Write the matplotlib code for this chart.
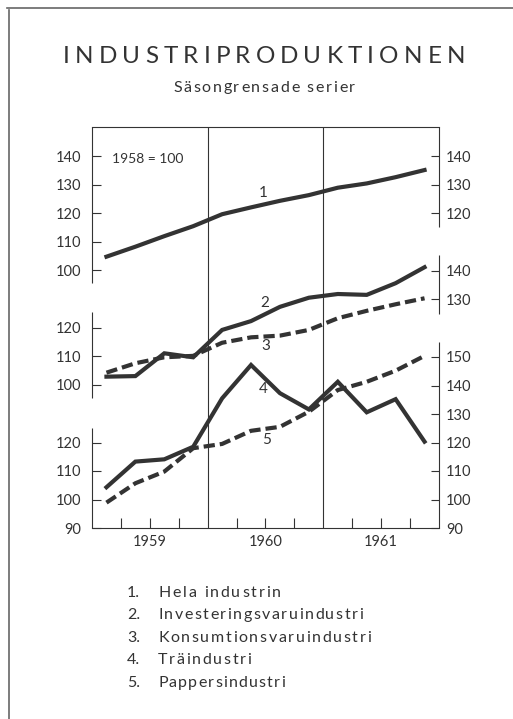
import numpy as np
import matplotlib.pyplot as plt
from matplotlib.lines import Line2D

# figure size in pixels (dpi 100)
W, H = 513, 719
FONT = ['Lato', 'DejaVu Sans']
INK = '#333333'
plt.rcParams['font.family'] = FONT

# ---- data: quarterly index values (1958 = 100) ----
quarters = 1959 + (np.arange(12) + 0.5) / 4
hela = [104.7, 108.2, 111.9, 115.4, 119.6, 122.0, 124.3, 126.3, 128.9, 130.4, 132.6, 135.1]
invest = [102.8, 103.0, 111.0, 109.6, 119.2, 122.3, 127.3, 130.5, 131.8, 131.5, 135.6, 141.2]
konsum = [104.2, 107.5, 109.6, 110.1, 114.7, 116.6, 117.2, 119.2, 123.3, 125.9, 128.2, 130.3]
trae = [104.3, 113.3, 114.1, 118.5, 135.5, 147.2, 137.3, 131.6, 141.3, 130.6, 135.2, 120.3]
papper = [98.9, 105.7, 109.8, 118.0, 119.5, 124.1, 125.5, 130.8, 138.4, 141.3, 145.2, 150.4]

years = [1959, 1960, 1961]
legend_names = ['Hela industrin', 'Investeringsvaruindustri',
                'Konsumtionsvaruindustri', 'Träindustri', 'Pappersindustri']

# each panel has its own scale, shifted on one common axis
OFF1, OFF2, OFF3 = 80.5, 40.3, 0.0
left_ticks = [([100, 110, 120, 130, 140], OFF1), ([100, 110, 120], OFF2), ([90, 100, 110, 120], OFF3)]
right_ticks = [([120, 130, 140], OFF1), ([130, 140], OFF2), ([90, 100, 110, 120, 130, 140, 150], OFF3)]
YTOP = 90 + 401 / 2.85

fig = plt.figure(figsize=(W / 100, H / 100), dpi=100)
ax = fig.add_axes([92 / W, 1 - 528 / H, (439 - 92) / W, (528 - 127) / H])
ax.set_xlim(1959, 1962)
ax.set_ylim(90, YTOP)

lw = 3.0
dash = (0, (2.7, 1.2))
ax.plot(quarters, np.array(hela) + OFF1, color=INK, lw=lw, solid_joinstyle='miter')
ax.plot(quarters, np.array(invest) + OFF2, color=INK, lw=lw, solid_joinstyle='miter')
ax.plot(quarters, np.array(konsum) + OFF2, color=INK, lw=lw, ls=dash, dash_capstyle='butt')
ax.plot(quarters, np.array(trae) + OFF3, color=INK, lw=lw, solid_joinstyle='miter')
ax.plot(quarters, np.array(papper) + OFF3, color=INK, lw=lw, ls=dash, dash_capstyle='butt')

# series numbers
lab_x = [1960.48, 1960.49, 1960.50, 1960.48, 1960.51]
lab_y = [127.0 + OFF1, 128.6 + OFF2, 113.6 + OFF2, 138.8, 120.9]
for i, (x, y) in enumerate(zip(lab_x, lab_y)):
    ax.text(x, y, str(i + 1), ha='center', va='center', fontsize=11, color=INK)

ax.text(0.058, 0.92, '1958 = 100', transform=ax.transAxes, ha='left', va='center',
        fontsize=10, color=INK)

# year boundaries
for yr in years[1:]:
    ax.axvline(yr, color=INK, lw=0.8)

# frame: top/bottom full, left/right broken per panel
for s in ['left', 'right']:
    ax.spines[s].set_visible(False)
for s in ['top', 'bottom']:
    ax.spines[s].set_color(INK)
    ax.spines[s].set_linewidth(0.8)

left_spans = [(95.5 + OFF1, YTOP), (95.3 + OFF2, 125.5 + OFF2), (90, 125.1)]
right_spans = [(115.1 + OFF1, YTOP), (124.8 + OFF2, 145.5 + OFF2), (90, 155.4)]
for lo, hi in left_spans:
    ax.plot([1959, 1959], [lo, hi], color=INK, lw=0.8, clip_on=False, solid_capstyle='butt')
for lo, hi in right_spans:
    ax.plot([1962, 1962], [lo, hi], color=INK, lw=0.8, clip_on=False, solid_capstyle='butt')

# y ticks
lpos, llab = [], []
for vals, off in left_ticks:
    lpos += [v + off for v in vals]
    llab += [str(v) for v in vals]
ax.set_yticks(lpos)
ax.set_yticklabels(llab)
ax.tick_params(axis='y', direction='in', length=6.5, width=0.8, color=INK,
               labelcolor=INK, labelsize=10.5, pad=7.5)

ax2 = ax.twinx()
ax2.set_ylim(ax.get_ylim())
for s in ax2.spines.values():
    s.set_visible(False)
rpos, rlab = [], []
for vals, off in right_ticks:
    rpos += [v + off for v in vals]
    rlab += [str(v) for v in vals]
ax2.set_yticks(rpos)
ax2.set_yticklabels(rlab)
ax2.tick_params(axis='y', direction='in', length=6, width=0.8, color=INK,
                labelcolor=INK, labelsize=10.5, pad=5)

# x ticks: quarters, year labels in the middle
ax.set_xticks([y + 0.5 for y in years])
ax.set_xticklabels([str(y) for y in years])
ax.set_xticks([y + q for y in years for q in (0.25, 0.75)], minor=True)
ax.tick_params(axis='x', which='both', direction='in', length=7.5, width=0.8,
               color=INK, labelcolor=INK, labelsize=10.5, pad=5)

# ---- letter-spaced text helper ----
renderer = fig.canvas.get_renderer()


def text_width(s, size):
    t = fig.text(0, 0, s, fontsize=size)
    w = t.get_window_extent(renderer).width
    t.remove()
    return w


def spaced(x0, base, s, size, target):
    # draw s starting at pixel x0 with baseline at pixel base, stretched to target width
    xw = text_width('x', size)
    starts = [text_width(s[:i] + 'x', size) - xw if i else 0.0 for i in range(len(s))]
    natural = text_width(s, size)
    track = (target - natural) / max(len(s) - 1, 1)
    for i, ch in enumerate(s):
        if ch == ' ':
            continue
        fig.text((x0 + starts[i] + i * track) / W, 1 - base / H, ch, fontsize=size,
                 color=INK, ha='left', va='baseline')


spaced(63, 63, 'INDUSTRIPRODUKTIONEN', 17.5, 402)
spaced(173, 91.5, 'Säsongrensade serier', 11.5, 182)

leg_widths = [123, 205, 213, 93, 127]
for i, (name, w) in enumerate(zip(legend_names, leg_widths)):
    base = 596.7 + i * 22.6
    fig.text(127 / W, 1 - base / H, f'{i + 1}.', fontsize=11.5, color=INK, ha='left', va='baseline')
    spaced(158, base, name, 11.5, w)

# page edges of the scanned sheet
fig.add_artist(Line2D([7 / W, 1], [1 - 7.5 / H] * 2, color='#666666', lw=1.2))
fig.add_artist(Line2D([9 / W] * 2, [0, 1 - 10 / H], color='#666666', lw=1.2))

fig.savefig('out.png', dpi=100)
